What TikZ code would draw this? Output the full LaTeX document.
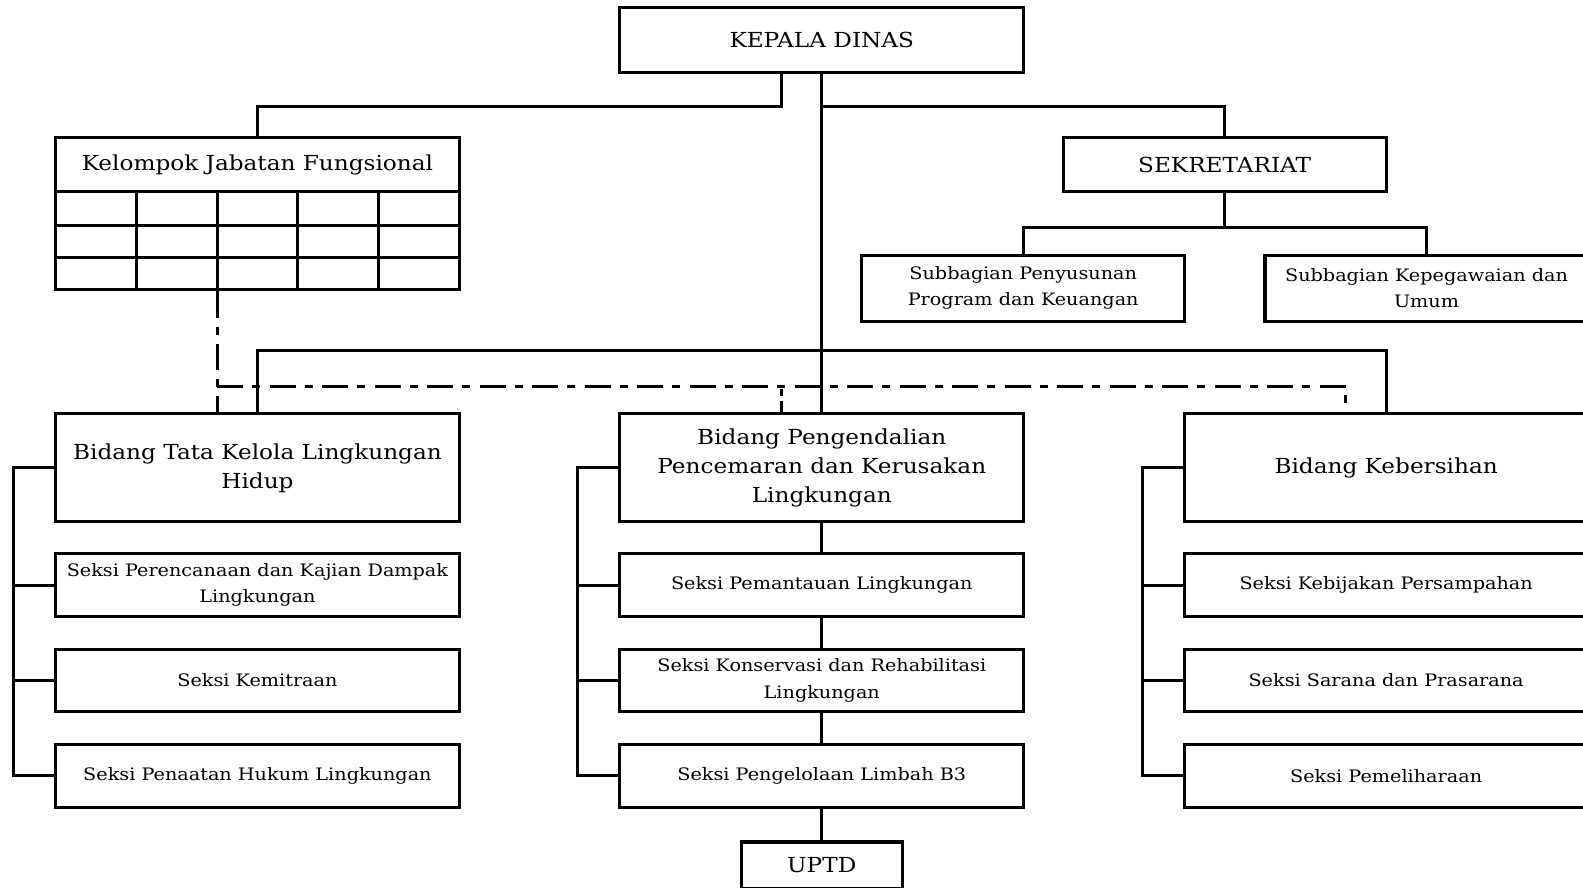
\documentclass[tikz,border=0pt]{standalone}
\usepackage{fontspec}
\setmainfont[FakeStretch=1.12]{DejaVu Serif}
\newcommand\bigf{\fontsize{20.5}{29}\selectfont}
\newcommand\smf{\fontsize{17}{26}\selectfont}
\tikzset{
  box/.style={draw, line width=3pt, inner sep=0pt, align=center, font=\bigf},
  sbox/.style={box, font=\smf},
  conn/.style={line width=3pt},
  dd/.style={line width=3pt, dash pattern=on 26pt off 9pt on 8pt off 9pt},
}
\begin{document}
\begin{tikzpicture}[x=1pt,y=-1pt]
\useasboundingbox (0,0) rectangle (1568,878.6);
% top
\node[box, minimum width=400pt, minimum height=65pt] (kepala) at (814,39.5) {KEPALA DINAS};
\node[box, minimum width=400pt, minimum height=54pt] (kjf) at (255,163) {Kelompok Jabatan Fungsional};
\node[draw, line width=3pt, inner sep=0pt, minimum width=400pt, minimum height=97pt] (kt) at (255,238.5) {};
\foreach \x in {135,215,295,375} \draw[conn] (\x,190) -- (\x,287);
\draw[conn] (55,223) -- (455,223) (55,255) -- (455,255);
\node[box, minimum width=320pt, minimum height=54pt] (sek) at (1213,163) {SEKRETARIAT};
\node[sbox, minimum width=320pt, minimum height=65pt] (spp) at (1013.5,285.5) {Subbagian Penyusunan\\Program dan Keuangan};
\node[sbox, minimum width=320pt, minimum height=65pt] (skp) at (1413,285.5) {Subbagian Kepegawaian dan\\Umum};
% bidang
\node[box, minimum width=400pt, minimum height=107pt] (bA) at (255,463.5) {Bidang Tata Kelola Lingkungan\\Hidup};
\node[box, minimum width=400pt, minimum height=107pt] (bB) at (814,463.5) {Bidang Pengendalian\\Pencemaran dan Kerusakan\\Lingkungan};
\node[box, minimum width=400pt, minimum height=107pt] (bC) at (1373,463.5) {Bidang Kebersihan};
% seksi
\node[sbox, minimum width=400pt, minimum height=63pt] (a1) at (255,579.5) {Seksi Perencanaan dan Kajian Dampak\\Lingkungan};
\node[sbox, minimum width=400pt, minimum height=62pt] (a2) at (255,674) {Seksi Kemitraan};
\node[sbox, minimum width=400pt, minimum height=63pt] (a3) at (255,768.5) {Seksi Penaatan Hukum Lingkungan};
\node[sbox, minimum width=400pt, minimum height=63pt] (b1) at (814,579.5) {Seksi Pemantauan Lingkungan};
\node[sbox, minimum width=400pt, minimum height=62pt] (b2) at (814,674) {Seksi Konservasi dan Rehabilitasi\\Lingkungan};
\node[sbox, minimum width=400pt, minimum height=63pt] (b3) at (814,768.5) {Seksi Pengelolaan Limbah B3};
\node[sbox, minimum width=400pt, minimum height=63pt] (c1) at (1373,579.5) {Seksi Kebijakan Persampahan};
\node[sbox, minimum width=400pt, minimum height=62pt] (c2) at (1373,674) {Seksi Sarana dan Prasarana};
\node[sbox, minimum width=400pt, minimum height=63pt] (c3) at (1373,768.5) {Seksi Pemeliharaan};
\node[box, minimum width=160pt, minimum height=46pt] (uptd) at (814,857) {UPTD};
% connectors
\draw[conn] ([xshift=-40pt]kepala.south) -- ++(0,32) -| (kjf.north);
\draw[conn] (kepala.south) -- (bB.north);
\draw[conn] (kepala.south) ++(0,32) -| (sek.north);
\draw[conn] (sek.south) -- ++(0,34) coordinate (s1);
\draw[conn] (spp.north) |- (s1) -| (skp.north);
\draw[conn] (bA.north) -- ++(0,-61) -| (bC.north);
\draw[dd] ([xshift=-40pt]kt.south) -- ([xshift=-40pt]bA.north);
\draw[dd] ([xshift=-40pt]kt.south) ++(0,94) -| ([xshift=-40pt]bC.north);
\draw[line width=3pt, dash pattern=on 11pt off 5pt on 7pt off 20pt] ([xshift=-40pt]bB.north) -- ++(0,-29);
\foreach \g/\s in {bA/a,bB/b,bC/c} {
  \draw[conn] (\g.west) -- ++(-40,0) |- (\s3.west);
  \draw[conn] (\s1.west) -- ++(-40,0);
  \draw[conn] (\s2.west) -- ++(-40,0);
}
\draw[conn] (bB.south) -- (b1.north);
\draw[conn] (b1.south) -- (b2.north);
\draw[conn] (b2.south) -- (b3.north);
\draw[conn] (b3.south) -- (uptd.north);
\end{tikzpicture}
\end{document}
